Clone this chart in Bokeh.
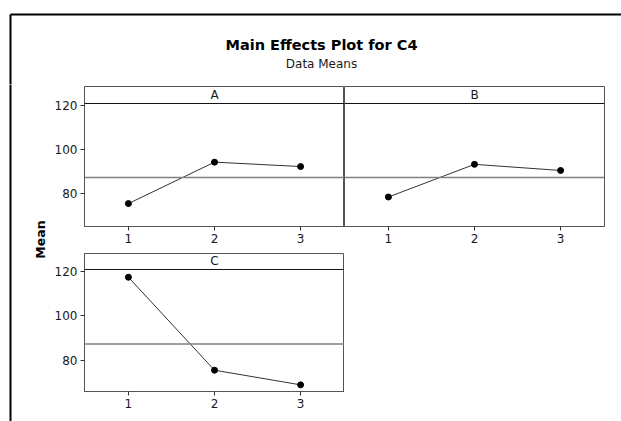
import numpy as np
from bokeh.plotting import figure
from bokeh.layouts import row, column
from bokeh.models import Range1d, FixedTicker, Span
from bokeh.core.properties import value
from bokeh.embed import file_html
from bokeh.resources import INLINE

# ---- data ----
levels = [1, 2, 3]
factor_names = ["A", "B", "C"]
means_A = [75.4, 94.3, 92.3]
means_B = [78.4, 93.3, 90.5]
means_C = [117.4, 75.5, 68.9]
y_ticks = [80, 100, 120]
title_text = "Main Effects Plot for C4"
subtitle_text = "Data Means"
y_label = "Mean"

grand_mean = float(np.mean(means_A + means_B + means_C))

FONT = "DejaVu Sans"
TXT = "#1a1a1a"
BOX = "#555555"
FRAME_W = 2


def blank(w, h):
    p = figure(width=w, height=h, output_backend="svg", toolbar_location=None,
               x_range=Range1d(0, w), y_range=Range1d(0, h), min_border=0)
    p.axis.visible = False
    p.grid.visible = False
    p.outline_line_color = None
    return p


def panel(name, vals, w, h, mb_left, mb_right, mb_top, mb_bottom,
          y0, y1, ydiv, show_y):
    p = figure(width=w, height=h, output_backend="svg", toolbar_location=None,
               x_range=Range1d(0.49, 3.51), y_range=Range1d(y0, y1),
               min_border_left=mb_left, min_border_right=mb_right,
               min_border_top=mb_top, min_border_bottom=mb_bottom)
    p.grid.visible = False
    p.outline_line_color = BOX
    p.outline_line_width = 1
    p.xaxis.ticker = FixedTicker(ticks=levels)
    p.yaxis.ticker = FixedTicker(ticks=y_ticks)
    for ax in p.axis:
        ax.axis_line_color = BOX
        ax.major_tick_line_color = "#333333"
        ax.major_tick_out = 4
        ax.major_tick_in = 0
        ax.minor_tick_line_color = None
        ax.major_label_text_font = FONT
        ax.major_label_text_font_size = "12px"
        ax.major_label_text_color = TXT
        ax.major_label_standoff = 3
    if not show_y:
        p.yaxis.visible = False
    # header divider and grand-mean reference line
    p.add_layout(Span(location=ydiv, dimension="width", line_color="#111111", line_width=1))
    p.add_layout(Span(location=grand_mean, dimension="width", line_color="#808080", line_width=1.5))
    # header label
    p.text(x=[float(np.mean(levels))], y=[(ydiv + y1) / 2], text=[name],
           text_font=value(FONT), text_font_size="12px", text_color=TXT,
           text_align="center", text_baseline="middle")
    # data
    p.line(levels, vals, line_color="#333333", line_width=1)
    p.scatter(levels, vals, size=6, fill_color="black", line_color="black")
    return p


# title strip (page origin at 0,0)
ts_w, ts_h = 621, 84
title_fig = blank(ts_w, ts_h)
title_fig.line([10, ts_w], [ts_h - 14, ts_h - 14], line_color="black", line_width=2)
title_fig.line([10, 10], [-2, ts_h - 14], line_color="black", line_width=FRAME_W)
title_fig.text(x=[321], y=[ts_h - 44], text=[title_text], text_font=value(FONT),
               text_font_size="14.5px", text_font_style="bold", text_color="black",
               text_align="center", text_baseline="middle")
title_fig.text(x=[321], y=[ts_h - 63], text=[subtitle_text], text_font=value(FONT),
               text_font_size="12px", text_color=TXT,
               text_align="center", text_baseline="middle")

# panels
figA = panel(factor_names[0], means_A, 294, 166, 34, 0, 2, 24, 64.95, 128.8, 121.05, True)
figB = panel(factor_names[1], means_B, 262, 166, 0, 2, 2, 24, 64.95, 128.8, 121.05, False)
figC = panel(factor_names[2], means_C, 294, 171, 34, 0, 3, 30, 65.9, 128.1, 120.9, True)

# left strip with y label
ls_w, ls_h = 50, 337
left_fig = blank(ls_w, ls_h)
left_fig.line([10, 10], [-2, ls_h + 2], line_color="black", line_width=FRAME_W)
left_fig.text(x=[40], y=[ls_h - (239 - ts_h)], text=[y_label], text_font=value(FONT),
              text_font_size="12.5px", text_font_style="bold", text_color="black",
              angle=np.pi / 2, text_align="center", text_baseline="middle")

layout = column(title_fig, row(left_fig, column(row(figA, figB), figC)))

open("out.html", "w").write(file_html(layout, INLINE))
